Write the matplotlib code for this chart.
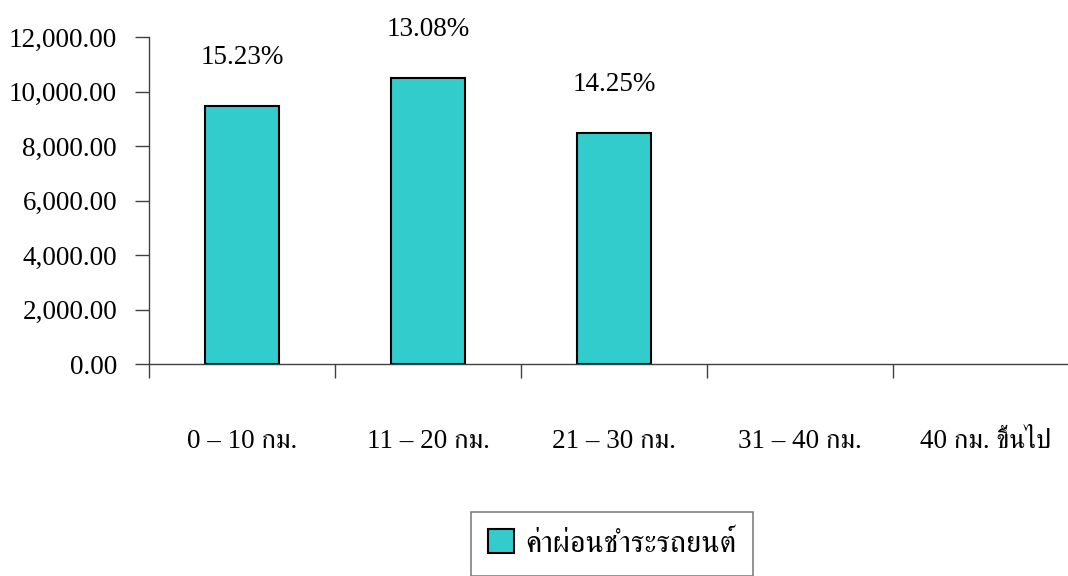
import matplotlib
matplotlib.use("Agg")
import matplotlib.pyplot as plt
import numpy as np

plt.rcParams['font.family'] = ['Liberation Serif', 'FreeSerif']

# ระยะทาง กับ ค่าผ่อนชำระรถยนต์
categories = ['0 – 10 กม.', '11 – 20 กม.', '21 – 30 กม.', '31 – 40 กม.', '40 กม. ขึ้นไป']
values = [9470, 10500, 8480, 0, 0]
pct_labels = ['15.23%', '13.08%', '14.25%', '', '']
yticks = [0, 2000, 4000, 6000, 8000, 10000, 12000]
series_name = 'ค่าผ่อนชำระรถยนต์'

fs = 19.5
axis_col = '#404040'

fig = plt.figure(figsize=(10.68, 5.76), dpi=100)
ax = fig.add_axes([149 / 1068, 212 / 576, 930 / 1068, 327 / 576])

x = np.arange(len(categories))
bars = ax.bar(x, values, width=0.4, color='#33CCCC', edgecolor='black',
              linewidth=1.5, label=series_name)

for b, v, lab in zip(bars, values, pct_labels):
    if v == 0:
        b.set_linewidth(0)
    if lab:
        ax.annotate(lab, (b.get_x() + b.get_width() / 2, b.get_height()),
                    xytext=(0, 35), textcoords='offset points',
                    ha='center', va='center', fontsize=fs)

ax.set_xlim(-0.5, len(categories) - 0.5)
ax.set_ylim(0, 12000)
ax.set_yticks(yticks)
ax.set_yticklabels([f'{v:,.2f}' for v in yticks], fontsize=fs)
ax.set_xticks(x)
ax.set_xticklabels(categories, fontsize=fs)
ax.set_xticks(np.arange(len(categories) + 1) - 0.5, minor=True)

ax.tick_params(axis='x', which='major', length=0, pad=47)
ax.tick_params(axis='x', which='minor', length=10, width=1, color=axis_col, direction='out')
ax.tick_params(axis='y', length=10, width=1, color=axis_col, direction='out', pad=13)

for side in ['top', 'right']:
    ax.spines[side].set_visible(False)
for side in ['left', 'bottom']:
    ax.spines[side].set_color(axis_col)
    ax.spines[side].set_linewidth(1)

leg = fig.legend(handles=[bars[0]], labels=[series_name],
                 loc='center', bbox_to_anchor=(612 / 1068, 1 - 544 / 576),
                 fontsize=22, frameon=True, fancybox=False, framealpha=1,
                 edgecolor='#808080', handlelength=0.85, handleheight=0.85,
                 handletextpad=0.35, borderpad=0.55, borderaxespad=0)
leg.get_frame().set_linewidth(1.2)

fig.savefig('out.png', dpi=100)
